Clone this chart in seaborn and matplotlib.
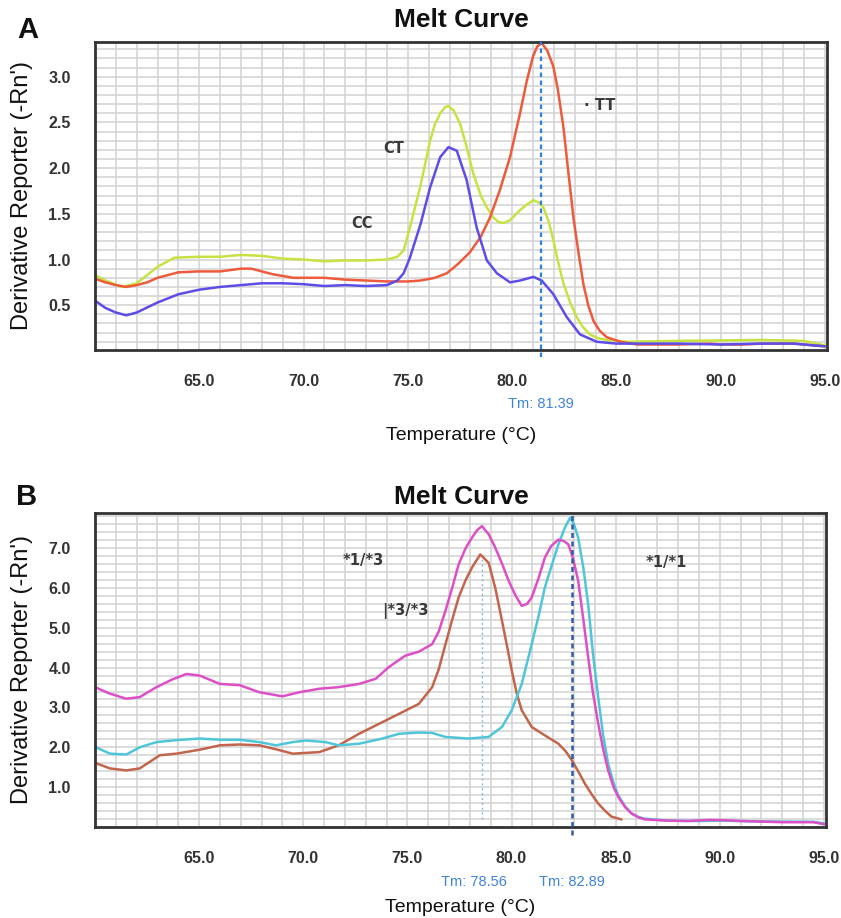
import pandas as pd
import matplotlib
matplotlib.use("Agg")
import matplotlib.pyplot as plt
from matplotlib.ticker import MultipleLocator, FixedLocator
import seaborn as sns

# ---- Panel A data ----
ct_temp = [60, 60.5, 61.3, 62, 63, 63.8, 65, 66, 67, 68, 69, 70, 71, 72, 73, 74, 74.5, 74.8,
           75.1, 75.6, 76.07, 76.3, 76.55, 76.8, 76.95, 77.2, 77.5, 77.8, 78.14, 78.5, 78.79,
           79.1, 79.35, 79.6, 79.9, 80.38, 80.7, 81.02, 81.3, 81.5, 81.75, 81.98, 82.2, 82.46,
           82.8, 83.1, 83.4, 83.74, 84.1, 84.54, 85.5, 88, 92, 94, 95]
ct_val = [0.83, 0.77, 0.70, 0.74, 0.92, 1.02, 1.03, 1.03, 1.05, 1.04, 1.01, 1.00, 0.98, 0.99,
          0.99, 1.00, 1.03, 1.10, 1.35, 1.80, 2.30, 2.48, 2.60, 2.67, 2.68, 2.63, 2.49, 2.25,
          1.94, 1.70, 1.57, 1.46, 1.41, 1.40, 1.43, 1.54, 1.60, 1.65, 1.62, 1.57, 1.42, 1.21,
          0.98, 0.74, 0.52, 0.37, 0.26, 0.18, 0.14, 0.12, 0.10, 0.11, 0.12, 0.11, 0.06]

tt_temp = [60, 60.5, 61, 61.5, 62, 62.5, 63, 64, 65, 66, 67, 67.5, 68.5, 69.5, 71, 72, 73, 74,
           75, 75.6, 76.3, 76.87, 77.4, 77.98, 78.5, 78.94, 79.4, 79.9, 80.38, 80.7, 81.0, 81.2,
           81.42, 81.7, 81.98, 82.2, 82.46, 82.7, 82.94, 83.2, 83.42, 83.65, 83.9, 84.2, 84.54,
           85.2, 86, 88, 89.5, 90, 91, 92, 93.5, 94.5, 95]
tt_val = [0.79, 0.75, 0.72, 0.70, 0.72, 0.75, 0.80, 0.86, 0.87, 0.87, 0.90, 0.90, 0.84, 0.80,
          0.80, 0.78, 0.77, 0.76, 0.76, 0.77, 0.80, 0.85, 0.95, 1.08, 1.25, 1.46, 1.75, 2.12,
          2.60, 2.95, 3.22, 3.33, 3.37, 3.28, 3.11, 2.85, 2.45, 1.95, 1.46, 1.05, 0.73, 0.50,
          0.33, 0.22, 0.15, 0.10, 0.07, 0.07, 0.08, 0.07, 0.07, 0.08, 0.08, 0.06, 0.05]

cc_temp = [60, 60.5, 61, 61.5, 62, 63, 64, 65, 66, 67, 68, 69, 70, 71, 72, 73, 74, 74.5, 74.8,
           75.1, 75.6, 76.07, 76.55, 76.95, 77.35, 77.82, 78.3, 78.79, 79.27, 79.9, 80.38,
           81.02, 81.42, 81.98, 82.62, 83.26, 84.06, 85, 88, 90, 92, 93.5, 94.5, 95]
cc_val = [0.55, 0.47, 0.42, 0.39, 0.42, 0.53, 0.62, 0.67, 0.70, 0.72, 0.74, 0.74, 0.73, 0.71,
          0.72, 0.71, 0.72, 0.77, 0.85, 1.02, 1.38, 1.79, 2.12, 2.23, 2.19, 1.87, 1.35, 0.99,
          0.85, 0.75, 0.77, 0.81, 0.77, 0.62, 0.37, 0.18, 0.10, 0.08, 0.08, 0.07, 0.08, 0.08,
          0.06, 0.05]

# ---- Panel B data ----
m13_temp = [60, 60.7, 61.5, 62.15, 62.95, 63.7, 64.39, 65.03, 66.0, 66.94, 67.9, 69.0, 69.8,
            70.77, 71.7, 72.68, 73.48, 74.1, 74.9, 75.55, 76.19, 76.5, 76.83, 77.15, 77.46,
            77.8, 78.1, 78.35, 78.58, 78.9, 79.22, 79.55, 79.86, 80.2, 80.49, 80.75, 80.97,
            81.3, 81.6, 81.9, 82.25, 82.5, 82.73, 82.95, 83.2, 83.45, 83.68, 83.9, 84.16, 84.4,
            84.64, 84.9, 85.12, 85.45, 85.76, 86.1, 86.4, 87.5, 88.5, 89.5, 90.3, 91, 93, 94.5, 95]
m13_val = [3.51, 3.35, 3.22, 3.26, 3.51, 3.70, 3.84, 3.80, 3.59, 3.56, 3.38, 3.28, 3.38, 3.47,
           3.51, 3.59, 3.72, 4.01, 4.30, 4.40, 4.59, 4.90, 5.43, 6.00, 6.59, 7.00, 7.26, 7.45,
           7.55, 7.35, 7.01, 6.60, 6.18, 5.80, 5.55, 5.60, 5.76, 6.25, 6.76, 7.05, 7.21, 7.18,
           7.09, 6.75, 6.18, 5.20, 4.26, 3.40, 2.60, 1.95, 1.42, 1.00, 0.76, 0.50, 0.34, 0.24,
           0.19, 0.16, 0.15, 0.18, 0.17, 0.15, 0.12, 0.12, 0.07]

m11_temp = [60, 60.72, 61.5, 62.15, 62.95, 63.9, 65.03, 66, 66.94, 67.9, 68.69, 69.49, 70.13,
            71.08, 71.7, 72.68, 73.8, 74.6, 75.55, 76.19, 76.83, 77.94, 78.9, 79.54, 80.01,
            80.49, 80.97, 81.3, 81.6, 81.95, 82.25, 82.55, 82.81, 83.0, 83.2, 83.45, 83.68,
            83.9, 84.16, 84.4, 84.64, 84.9, 85.12, 85.45, 85.76, 86.1, 86.4, 87.5, 89, 90, 92,
            94.5, 95]
m11_val = [2.01, 1.84, 1.82, 2.00, 2.13, 2.18, 2.22, 2.19, 2.19, 2.13, 2.05, 2.13, 2.17, 2.13,
           2.05, 2.09, 2.22, 2.34, 2.37, 2.36, 2.26, 2.22, 2.26, 2.51, 2.93, 3.59, 4.59, 5.30,
           6.01, 6.60, 7.09, 7.50, 7.76, 7.60, 7.26, 6.50, 5.59, 4.40, 3.26, 2.30, 1.59, 1.10,
           0.80, 0.52, 0.34, 0.25, 0.21, 0.16, 0.15, 0.16, 0.14, 0.13, 0.09]

m33_temp = [60, 60.72, 61.5, 62.15, 63.11, 63.9, 65.03, 66, 66.94, 67.9, 68.69, 69.5, 70.77,
            71.7, 72.68, 73.64, 74.6, 75.55, 76.19, 76.5, 76.83, 77.15, 77.46, 77.8, 78.1,
            78.5, 78.9, 79.22, 79.54, 79.8, 80.01, 80.25, 80.49, 80.97, 81.6, 82.25, 82.6,
            82.89, 83.2, 83.52, 83.85, 84.16, 84.5, 84.8, 85.28]
m33_val = [1.61, 1.47, 1.42, 1.47, 1.80, 1.84, 1.94, 2.05, 2.07, 2.05, 1.95, 1.84, 1.88, 2.05,
           2.34, 2.59, 2.84, 3.09, 3.51, 3.95, 4.59, 5.20, 5.76, 6.20, 6.51, 6.84, 6.63, 6.00,
           5.18, 4.50, 3.93, 3.35, 2.93, 2.51, 2.30, 2.09, 1.90, 1.68, 1.40, 1.09, 0.82, 0.59,
           0.40, 0.26, 0.19]

x_major = [65, 70, 75, 80, 85, 90, 95]
x_labels = ["65.0", "70.0", "75.0", "80.0", "85.0", "90.0", "95.0"]
ya_major = [0.5, 1.0, 1.5, 2.0, 2.5, 3.0]
yb_major = [1.0, 2.0, 3.0, 4.0, 5.0, 6.0, 7.0]

tm_a = 81.39
tm_b1, tm_b2 = 78.56, 82.89

df_a = pd.concat([
    pd.DataFrame({"temp": ct_temp, "value": ct_val, "geno": "CT"}),
    pd.DataFrame({"temp": tt_temp, "value": tt_val, "geno": "TT"}),
    pd.DataFrame({"temp": cc_temp, "value": cc_val, "geno": "CC"}),
])
df_b = pd.concat([
    pd.DataFrame({"temp": m33_temp, "value": m33_val, "geno": "*3/*3"}),
    pd.DataFrame({"temp": m11_temp, "value": m11_val, "geno": "*1/*1"}),
    pd.DataFrame({"temp": m13_temp, "value": m13_val, "geno": "*1/*3"}),
])

pal_a = {"CT": "#c5e342", "TT": "#ee5a3c", "CC": "#5c4de6"}
pal_b = {"*3/*3": "#c2654c", "*1/*1": "#4fc6d8", "*1/*3": "#dd4fc6"}

sns.set_style("white")
plt.rcParams["font.family"] = ["Liberation Sans", "DejaVu Sans"]

W, H = 841, 918
fig = plt.figure(figsize=(W / 100, H / 100), dpi=100)
axA = fig.add_axes([95 / W, 1 - 350 / H, 732 / W, 308 / H])
axB = fig.add_axes([95 / W, 1 - 827 / H, 731 / W, 314 / H])

sns.lineplot(data=df_a, x="temp", y="value", hue="geno", palette=pal_a, estimator=None,
             sort=False, linewidth=1.8, legend=False, ax=axA)
sns.lineplot(data=df_b, x="temp", y="value", hue="geno", palette=pal_b, estimator=None,
             sort=False, linewidth=1.8, legend=False, ax=axB)


def style_axes(ax, ymajor, yminor, ylim, xlabel_off):
    ax.set_xlim(60, 95.1)
    ax.set_ylim(*ylim)
    ax.xaxis.set_major_locator(FixedLocator(x_major))
    ax.set_xticklabels(x_labels)
    ax.xaxis.set_minor_locator(MultipleLocator(1))
    ax.yaxis.set_major_locator(FixedLocator(ymajor))
    ax.set_yticklabels([f"{v:.1f}" for v in ymajor])
    ax.yaxis.set_minor_locator(MultipleLocator(yminor))
    ax.grid(which="both", color="#d2d2d2", linewidth=1.1)
    ax.set_axisbelow(True)
    ax.tick_params(which="major", length=10.5, width=1.2, color="#b0b0b0", pad=7,
                   labelsize=11.5, labelcolor="#333333")
    ax.tick_params(which="minor", length=5, width=1.0, color="#b8b8b8")
    for lab in ax.get_xticklabels() + ax.get_yticklabels():
        lab.set_fontweight("bold")
    for sp in ax.spines.values():
        sp.set_color("#333333")
        sp.set_linewidth(2)
    ax.set_ylabel("Derivative Reporter (-Rn')", fontsize=17, color="#111111", va="center")
    ax.yaxis.set_label_coords(-73 / 732, 0.5)
    ax.set_xlabel("Temperature (°C)", fontsize=14, color="#111111", va="center")
    ax.xaxis.set_label_coords(0.5, -xlabel_off)


style_axes(axA, ya_major, 0.1, (0.01, 3.38), 85 / 308)
style_axes(axB, yb_major, 0.2, (0.0, 7.88), 80 / 314)

# Tm markers
axA.plot([tm_a, tm_a], [-0.07, 3.38], color="#2f7fe0", linewidth=1.6,
         linestyle=(0, (2, 1.6)), clip_on=False, zorder=5)
axA.text(tm_a, -54 / 308, f"Tm: {tm_a:.2f}", transform=axA.get_xaxis_transform(),
         ha="center", va="center", fontsize=10.5, color="#3d82de")

axB.plot([tm_b1, tm_b1], [0.2, 6.84], color="#8fb4e0", linewidth=1.0,
         linestyle=(0, (1.5, 2)), zorder=1.5)
axB.plot([tm_b2, tm_b2], [-0.2, 7.88], color="#2f5aa8", linewidth=1.8,
         linestyle=(0, (2, 1.4)), clip_on=False, zorder=5)
axB.text(78.2, -55 / 314, f"Tm: {tm_b1:.2f}", transform=axB.get_xaxis_transform(),
         ha="center", va="center", fontsize=10.5, color="#3d82de")
axB.text(tm_b2, -55 / 314, f"Tm: {tm_b2:.2f}", transform=axB.get_xaxis_transform(),
         ha="center", va="center", fontsize=10.5, color="#3d82de")

# curve labels
lab_kw = dict(ha="center", va="center", fontsize=10.5, color="#3a3a3a",
              family=["DejaVu Sans"], fontweight="bold")
axA.text(74.34, 2.22, "CT", **lab_kw)
axA.text(72.8, 1.39, "CC", **lab_kw)
axA.text(84.22, 2.69, "· TT", **lab_kw)
axB.text(72.87, 6.68, "*1/*3", **lab_kw)
axB.text(74.88, 5.43, "|*3/*3", **lab_kw)
axB.text(87.42, 6.63, "*1/*1", **lab_kw)

# titles and panel letters
for ypx in (20, 497):
    fig.text(461 / W, 1 - ypx / H, "Melt Curve", ha="center", va="center", fontsize=19,
             fontweight="bold", color="#111111")
fig.text(28 / W, 1 - 30 / H, "A", ha="center", va="center", fontsize=21,
         fontweight="bold", color="#111111")
fig.text(27 / W, 1 - 497 / H, "B", ha="center", va="center", fontsize=21,
         fontweight="bold", color="#111111")

fig.savefig("out.png", dpi=100)
